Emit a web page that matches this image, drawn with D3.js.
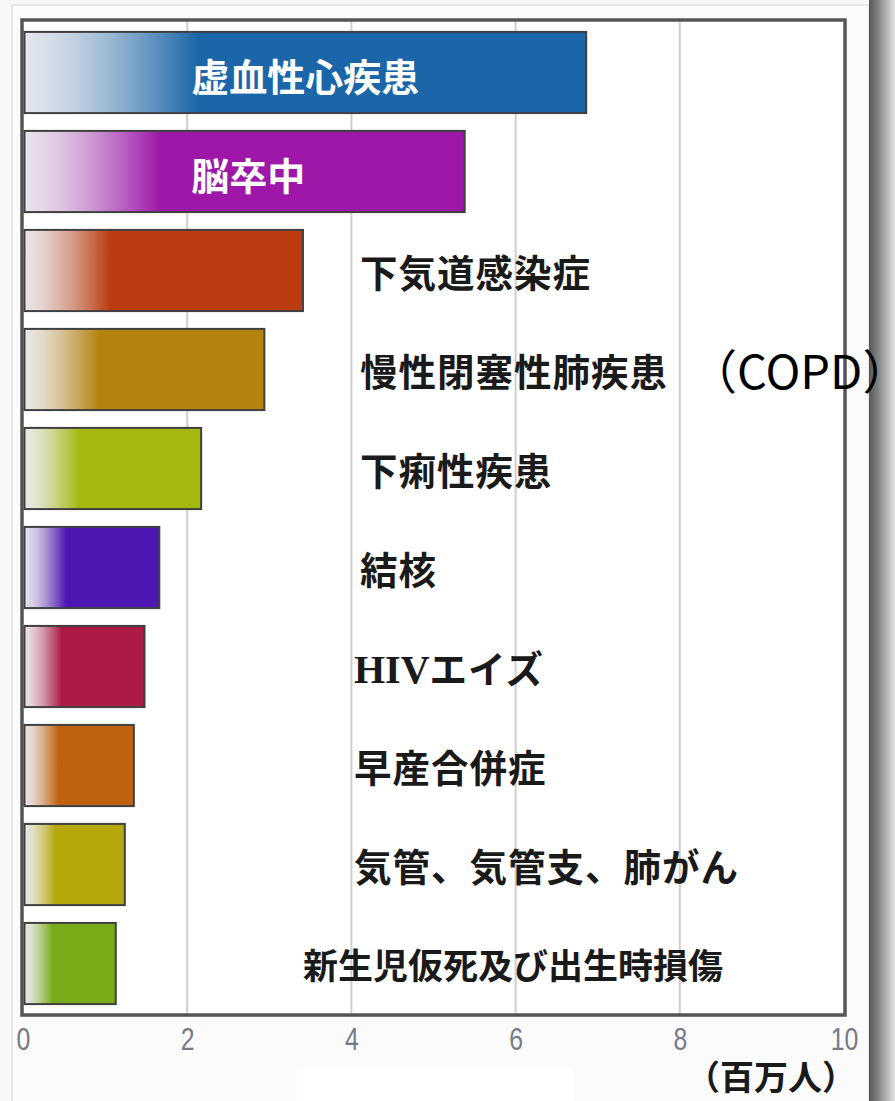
<!DOCTYPE html>
<html><head><meta charset="utf-8">
<script src="https://cdn.jsdelivr.net/npm/d3@7"></script>
<style>html,body{margin:0;padding:0;background:#f7f7f7;}svg{display:block;}</style>
</head><body>
<svg id="chart" width="895" height="1101"></svg>
<script>
// ---- data ----
const categories = ["虚血性心疾患","脳卒中","下気道感染症","慢性閉塞性肺疾患","下痢性疾患","結核","HIVエイズ","早産合併症","気管、気管支、肺がん","新生児仮死及び出生時損傷"];
const values = [6.86, 5.38, 3.41, 2.94, 2.17, 1.66, 1.48, 1.35, 1.24, 1.13];
const colors = ["#1b66a9","#9e17a9","#bb3c10","#b4830f","#a4b80f","#4e17b3","#ad1a46","#c0620f","#b6a70d","#79ab18"];
const tickValues = [0, 2, 4, 6, 8, 10];
const unitLabel = "（百万人）";
const copdSuffix = "（COPD）";

// ---- layout ----
const W = 895, H = 1101;
const svg = d3.select("#chart");
const defs = svg.append("defs");
const x = d3.scaleLinear().domain([0, 10]).range([23, 844]);
const y = d3.scaleBand().domain(categories).range([22, 1014]).paddingInner(0.18).paddingOuter(0.1);

// background & outer panel
svg.append("rect").attr("width", W).attr("height", H).attr("fill", "#f7f7f7");
svg.append("rect").attr("x", 12).attr("y", 5).attr("width", 857).attr("height", H).attr("fill", "#fbfbfb").attr("stroke", "#e2e2e2").attr("stroke-width", 1.5);
const sh = defs.append("linearGradient").attr("id", "shadow").attr("x1", 0).attr("x2", 1).attr("y1", 0).attr("y2", 0);
sh.append("stop").attr("offset", 0).attr("stop-color", "#555");
sh.append("stop").attr("offset", 0.4).attr("stop-color", "#8a8a8a");
sh.append("stop").attr("offset", 1).attr("stop-color", "#e4e4e4");
svg.append("rect").attr("x", 869).attr("y", 0).attr("width", 26).attr("height", H).attr("fill", "url(#shadow)");
svg.append("rect").attr("x", 297).attr("y", 1068).attr("width", 277).attr("height", 33).attr("fill", "#ffffff");

// plot frame
svg.append("rect").attr("x", 22).attr("y", 20).attr("width", 823).attr("height", 995).attr("fill", "#ffffff");

// gridlines
svg.append("g").selectAll("line").data(tickValues.filter(t => t > 0 && t < 10)).join("line")
  .attr("x1", d => x(d)).attr("x2", d => x(d)).attr("y1", 21).attr("y2", 1014)
  .attr("stroke", "#cfcfcf").attr("stroke-width", 2);

// gradients
colors.forEach((c, i) => {
  const g = defs.append("linearGradient").attr("id", "g" + i).attr("x1", 0).attr("x2", 1).attr("y1", 0).attr("y2", 0);
  const mix = d3.interpolateRgb("#ececef", c);
  [[0, 0.03], [0.08, 0.18], [0.16, 0.42], [0.24, 0.72], [0.31, 1], [1, 1]].forEach(([o, t]) =>
    g.append("stop").attr("offset", o).attr("stop-color", mix(t)));
});

// bars
svg.append("g").selectAll("rect").data(categories).join("rect")
  .attr("x", x(0) + 1.5)
  .attr("y", d => y(d))
  .attr("width", (d, i) => x(values[i]) - x(0) - 1.5)
  .attr("height", y.bandwidth())
  .attr("fill", (d, i) => "url(#g" + i + ")")
  .attr("stroke", "#404040").attr("stroke-width", 2);

// frame border on top
svg.append("rect").attr("x", 22).attr("y", 20).attr("width", 823).attr("height", 995)
  .attr("fill", "none").attr("stroke", "#555").attr("stroke-width", 3.5);

// labels
const jp = "'Noto Sans CJK JP', sans-serif";
const lab = svg.append("g").attr("font-family", jp).attr("font-weight", 700);
categories.forEach((c, i) => {
  const cy = y(c) + y.bandwidth() / 2;
  if (i < 2) {
    lab.append("text").attr("x", x(2.05)).attr("y", cy + 5).attr("dy", "0.36em")
      .attr("fill", "#ffffff").attr("font-size", 38).text(c);
  } else {
    const lx = i === 9 ? 303 : (i >= 6 ? 354 : 360);
    const fs = i === 9 ? 35 : 37.5;
    const t = lab.append("text").attr("x", lx).attr("y", cy + 3).attr("dy", "0.36em")
      .attr("fill", "#1a1a1a").attr("font-size", fs).attr("letter-spacing", i === 9 ? 0 : 1);
    if (c.startsWith("HIV")) {
      t.append("tspan").attr("font-family", "'Liberation Serif', serif").attr("font-size", 40).attr("letter-spacing", 0).text("HIV");
      t.append("tspan").text(c.slice(3));
    } else {
      t.text(c);
    }
    if (i === 3) {
      svg.append("text").attr("x", 690).attr("y", cy + 3).attr("dy", "0.36em")
        .attr("font-family", jp).attr("font-weight", 400).attr("font-size", 47)
        .attr("fill", "#000").text(copdSuffix);
    }
  }
});

// x axis
const axis = svg.append("g").attr("transform", "translate(0,1016)")
  .call(d3.axisBottom(x).tickValues(tickValues).tickSize(0).tickPadding(12));
axis.select(".domain").remove();
axis.selectAll("text").attr("font-family", "'Liberation Sans', Arial, sans-serif")
  .attr("font-size", 31).attr("fill", "#767a86").attr("transform", "scale(0.8,1)");

svg.append("text").attr("x", 856).attr("y", 1090).attr("text-anchor", "end")
  .attr("font-family", jp).attr("font-weight", 700).attr("font-size", 34)
  .attr("fill", "#1a1a1a").text(unitLabel);
</script>
</body></html>
